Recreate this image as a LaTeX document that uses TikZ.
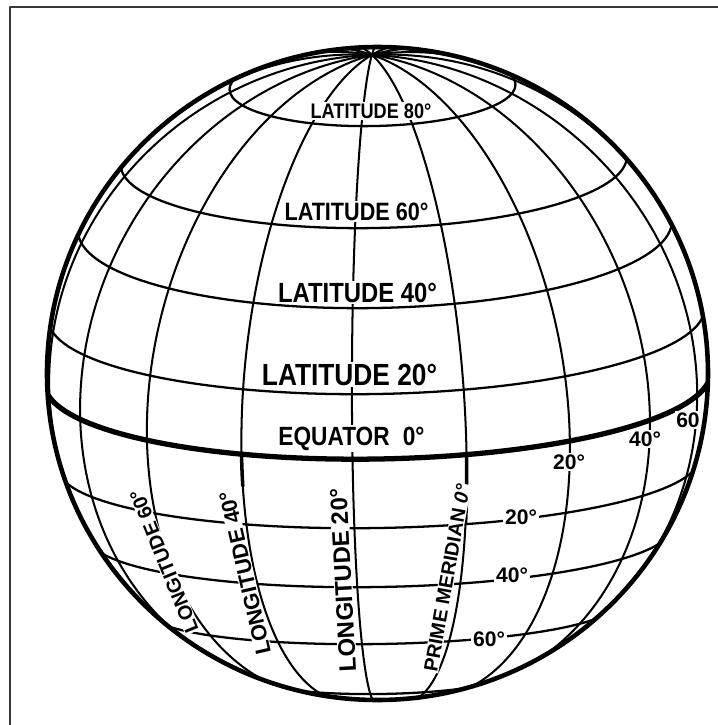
\documentclass[tikz,border=0pt]{standalone}
\usepackage{fontspec}
\setmainfont{Liberation Sans}
\newfontfamily\narrowfont[FakeStretch=0.86]{Liberation Sans}

\begin{document}
\begin{tikzpicture}[x=0.02cm, y=-0.02cm, line join=round,
		rim/.style={line width=2.6pt},
		par/.style={line width=1.3pt},
		mer/.style={line width=1.15pt},
		lat/.style={fill=white, inner sep=1pt, anchor=base, font=\narrowfont\bfseries\fontsize{#1}{#1}\selectfont},
		lon/.style={fill=white, inner sep=0.5pt, font=\bfseries\fontsize{#1}{#1}\selectfont},
		num/.style={fill=white, inner sep=1pt, font=\bfseries\fontsize{12}{12}\selectfont}]
	\useasboundingbox (0,0) rectangle (718,725);
	\draw[line width=1.5pt, black!78] (10,725) |- (718,7);
	\begin{scope}
		\clip (377.5,373.5) ellipse [x radius=330.5, y radius=326.5];
		\begin{scope}[rotate around={1:(377.5,373.5)}]
			% parallels as drawn: centre y / half width / sag
			\draw[par] (377.5,87) ellipse [x radius=143, y radius=39];
			\foreach \yc/\rx/\ry in {161/253/67, 226/297/82, 314/328/80, 464/320/64, 533/291/54, 609/232/35, 668/150/26}
				\draw[par] plot[domain=-90:90, samples=73] ({377.5+\rx*sin(\x)}, {\yc+\ry*cos(\x)});
			\draw[line width=3pt] plot[domain=-90:90, samples=73] ({377.5+333*sin(\x)}, {378+81*cos(\x)});
			% meridians every 20 degrees, seen from 15 degrees north
			\foreach \lon in {-180,-160,...,160} {
				\pgfmathsetmacro\dl{\lon+15.4}
				\pgfmathsetmacro\ph{atan(-cos(\dl)/tan(15))}
				\draw[mer] plot[domain=\ph:90, samples=60, smooth] ({377.5+330*cos(\x)*sin(\dl)}, {373.5-330*(sin(\x)*cos(15)-cos(\x)*cos(\dl)*sin(15))});
			}
			\foreach \dl/\a in {15.4/-13, -24.6/-6}
				\draw[line width=2pt] plot[domain=\a:0, samples=10] ({377.5+330*cos(\x)*sin(\dl)}, {373.5-330*(sin(\x)*cos(15)-cos(\x)*cos(\dl)*sin(15))});
		\end{scope}
	\end{scope}
	\node[lat=12] (l80) at (371,118) {LATITUDE 80°};
	\node[lat=14.3] (l60) at (356.5,220) {LATITUDE 60°};
	\node[lat=15.8] (l40) at (357.5,302) {LATITUDE 40°};
	\node[lat=17.4] (l20) at (349.5,385) {LATITUDE 20°};
	\node[lat=15] (eq) at (351.5,445) {EQUATOR\hspace{0.5em}0°};
	\node[lon=11.3, rotate=112] (lo60) at (164,561) {LONGITUDE 60°};
	\node[lon=12.4, rotate=103] (lo40) at (245,573) {LONGITUDE 40°};
	\node[lon=13.6, rotate=93] (lo20) at (343,580) {LONGITUDE 20°};
	\node[lon=11.2, rotate=80] (pm) at (447,578) {PRIME MERIDIAN {\itshape 0°}};
	\node[num] (e20) at (569,462) {20°};
	\node[num] (e40) at (645,439) {40°};
	\node[num] (e60) at (688,420) {60};
	\node[num] (s20) at (521,517) {20°};
	\node[num] (s40) at (512,575) {40°};
	\node[num] (s60) at (489,639) {60°};
	\draw[rim] (377.5,373.5) ellipse [x radius=330.5, y radius=326.5];
\end{tikzpicture}
\end{document}
